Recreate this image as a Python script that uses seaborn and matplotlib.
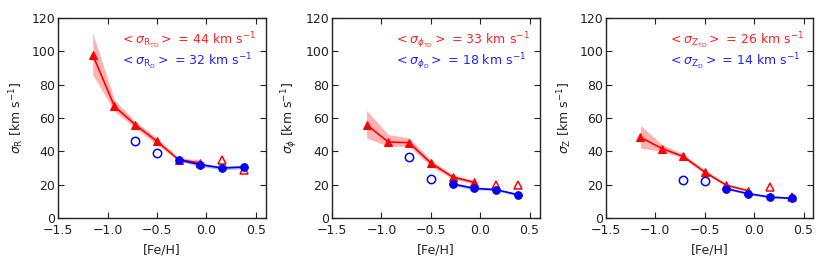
import numpy as np
import pandas as pd
import seaborn as sns
import matplotlib.pyplot as plt

# metallicity bins
feh = [-1.15, -0.93, -0.72, -0.50, -0.28, -0.06, 0.16, 0.38]

# thick+thin disc (red) - first 6 bins connected, last 2 open
sig_td = {
    "R": [98, 67, 56, 46, 35, 33, 35, 29],
    "phi": [56, 45.6, 45.2, 33, 24.6, 21.4, 19.6, 19.6],
    "Z": [48.4, 41.6, 37, 27.6, 19.6, 16.4, 18.4, 12.5],
}
lo_td = {
    "R": [86, 64, 54, 44, 34, 32],
    "phi": [48, 43, 43, 31, 23.5, 20.5],
    "Z": [42, 40, 36, 26.5, 19, 16],
}
hi_td = {
    "R": [111, 71, 58, 48, 36, 35],
    "phi": [64.5, 50, 48, 35, 26, 22.5],
    "Z": [55.5, 44, 38.5, 29, 20.5, 17],
}
# thin disc (blue) - first 2 open, last 4 connected
sig_d = {
    "R": [None, None, 46, 39, 35, 32, 30, 30.6],
    "phi": [None, None, 36.4, 23.6, 20.4, 17.8, 17, 14],
    "Z": [None, None, 23, 22.4, 17.6, 14.6, 12.6, 11.8],
}
lo_d = {"R": [34, 31, 29, 29.5], "phi": [19.5, 17, 16.3, 13.3], "Z": [17, 14, 12, 11.2]}
hi_d = {"R": [36, 33, 31, 31.7], "phi": [21.3, 18.6, 17.7, 14.7], "Z": [18.2, 15.2, 13.2, 12.4]}

means_td = {"R": 44, "phi": 33, "Z": 26}
means_d = {"R": 32, "phi": 18, "Z": 14}
sym = {"R": r"{\rm R}", "phi": r"\phi", "Z": r"{\rm Z}"}

sns.set_style("ticks")
plt.rcParams["font.family"] = ["DejaVu Sans"]
plt.rcParams["mathtext.fontset"] = "dejavusans"
fs = 9

fig = plt.figure(figsize=(8.3, 2.77), dpi=100)
lefts = [0.070, 0.400, 0.730]
width = 0.250

for i, comp in enumerate(["R", "phi", "Z"]):
    ax = fig.add_axes([lefts[i], 0.213, width, 0.722])
    df_td = pd.DataFrame({"feh": feh[:6], "sig": sig_td[comp][:6]})
    df_d = pd.DataFrame({"feh": feh[4:], "sig": sig_d[comp][4:]})

    ax.fill_between(feh[:6], lo_td[comp], hi_td[comp], color="r", alpha=0.3, lw=0)
    sns.lineplot(x="feh", y="sig", data=df_td, ax=ax, color="r", lw=1.2,
                 marker="^", markersize=5.5, markeredgecolor="r")
    ax.plot(feh[6:], sig_td[comp][6:], ls="none", marker="^", ms=5.5,
            mfc="none", mec="r", mew=1.1)

    ax.fill_between(feh[4:], lo_d[comp], hi_d[comp], color="b", alpha=0.3, lw=0)
    sns.lineplot(x="feh", y="sig", data=df_d, ax=ax, color="b", lw=1.2,
                 marker="o", markersize=5.5, markeredgecolor="b")
    ax.plot(feh[2:4], sig_d[comp][2:4], ls="none", marker="o", ms=6,
            mfc="none", mec="b", mew=1.1)

    ax.set_xlim(-1.5, 0.6)
    ax.set_ylim(0, 120)
    ax.set_xticks([-1.5, -1.0, -0.5, 0.0, 0.5])
    ax.set_xticklabels(["\u22121.5", "\u22121.0", "\u22120.5", "0.0", "0.5"])
    ax.set_yticks(range(0, 121, 20))
    ax.tick_params(direction="in", top=True, right=True, length=4, width=0.8,
                   colors="#222222", labelsize=fs, pad=2)
    ax.tick_params(axis="x", pad=4)
    for sp in ax.spines.values():
        sp.set_visible(True)
        sp.set_color("#222222")
        sp.set_linewidth(1.0)
    ax.set_xlabel("[Fe/H]", fontsize=fs, color="#222222", labelpad=5)
    ax.set_ylabel(r"$\sigma_%s$ [km s$^{-1}$]" % sym[comp], fontsize=fs,
                  color="#222222", labelpad=4)

    ax.text(0.30, 0.885, r"$<\sigma_{%s_{\rm TD}}>$ = %d km s$^{-1}$" % (sym[comp], means_td[comp]),
            transform=ax.transAxes, color="#ff2222", fontsize=fs, va="center", ha="left")
    ax.text(0.30, 0.78, r"$<\sigma_{%s_{\rm D}}>$ = %d km s$^{-1}$" % (sym[comp], means_d[comp]),
            transform=ax.transAxes, color="#2222ff", fontsize=fs, va="center", ha="left")

fig.savefig("out.png", dpi=100)
